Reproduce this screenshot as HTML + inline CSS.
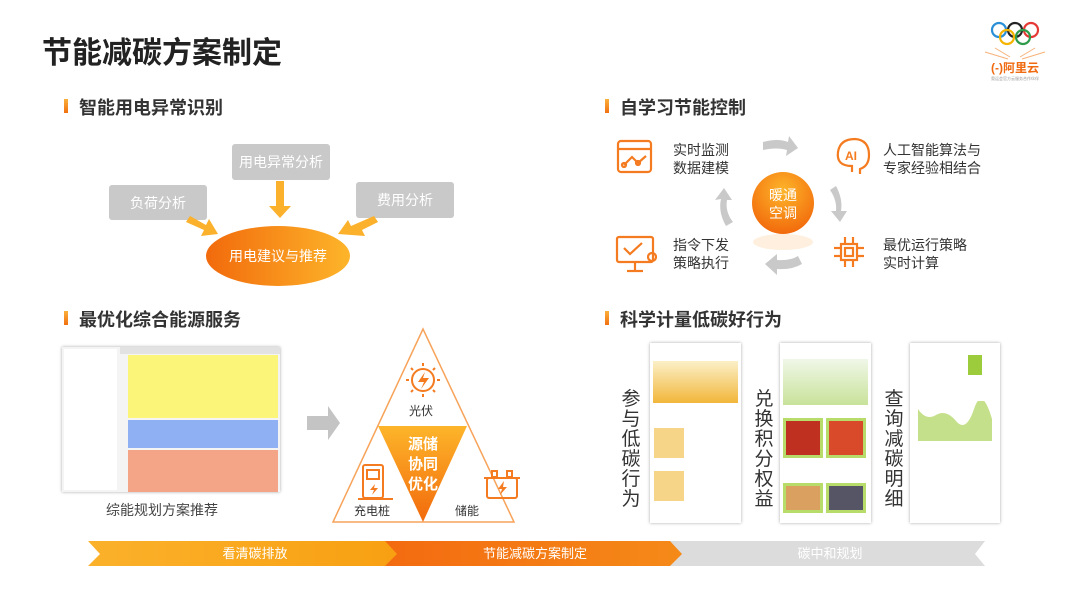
<!DOCTYPE html>
<html><head><meta charset="utf-8"><style>
*{margin:0;padding:0;box-sizing:border-box}
body{width:1080px;height:607px;background:#fff;position:relative;overflow:hidden;font-family:"Liberation Sans","Noto Sans CJK SC",sans-serif;color:#333}
.a{position:absolute;white-space:nowrap}
.h{font-size:18px;font-weight:bold;color:#333}
.bar{position:absolute;width:4px;height:14px;background:linear-gradient(#fbb03b,#f07010)}
.gb{position:absolute;background:#c9c9c9;color:#fff;font-size:14px;display:flex;align-items:center;justify-content:center;border-radius:3px}
.t14{font-size:14px;line-height:18px;color:#333}
.vt{position:absolute;font-size:19px;line-height:20px;width:22px;text-align:center;color:#333;white-space:normal}
.ph{position:absolute;background:#fff;box-shadow:0 0 3px rgba(0,0,0,.35)}
</style></head><body>
<div class="a" style="left:42px;top:28px;font-size:30px;font-weight:bold;color:#222">节能减碳方案制定</div>

<svg class="a" style="left:980px;top:14px" width="80" height="70">
<g fill="none" stroke-width="2.2">
<circle cx="19" cy="16" r="7" stroke="#2a8fd6"/><circle cx="35" cy="16" r="7" stroke="#222"/><circle cx="51" cy="16" r="7" stroke="#e53935"/>
<circle cx="27" cy="23" r="7" stroke="#f5b400"/><circle cx="43" cy="23" r="7" stroke="#2e9b4a"/></g>
<g stroke="#f7b27a" stroke-width="1"><line x1="5" y1="38" x2="28" y2="45"/><line x1="65" y1="38" x2="42" y2="45"/><line x1="15" y1="34" x2="30" y2="43"/><line x1="55" y1="34" x2="40" y2="43"/></g>
<text x="35" y="58" text-anchor="middle" font-size="12" font-weight="bold" fill="#f06a10" font-family="Liberation Sans,Noto Sans CJK SC,sans-serif">(-)阿里云</text>
<text x="35" y="66" text-anchor="middle" font-size="4" fill="#999">奥运会官方云服务合作伙伴</text>
</svg>

<div class="bar" style="left:64px;top:99px"></div>
<div class="a h" style="left:79px;top:94px">智能用电异常识别</div>
<div class="gb" style="left:109px;top:185px;width:98px;height:35px">负荷分析</div>
<div class="gb" style="left:232px;top:144px;width:98px;height:36px">用电异常分析</div>
<div class="gb" style="left:356px;top:182px;width:98px;height:36px">费用分析</div>
<svg class="a" style="left:0;top:0" width="1080" height="607">
<defs>
<linearGradient id="og" x1="0" x2="1"><stop offset="0" stop-color="#f26a0c"/><stop offset="1" stop-color="#fdb52a"/></linearGradient>
<linearGradient id="rg" x1="0" y1="0" x2="0" y2="1"><stop offset="0" stop-color="#fdb52a"/><stop offset="1" stop-color="#f26a0c"/></linearGradient>
<radialGradient id="cg" cx=".5" cy=".3" r=".7"><stop offset="0" stop-color="#fdb52a"/><stop offset="1" stop-color="#f26a0c"/></radialGradient>
<linearGradient id="b1" x1="0" x2="1"><stop offset="0" stop-color="#fbb12b"/><stop offset="1" stop-color="#f8a012"/></linearGradient>
<linearGradient id="b2" x1="0" x2="1"><stop offset="0" stop-color="#f36a10"/><stop offset="1" stop-color="#f58a18"/></linearGradient>
</defs>
<ellipse cx="278" cy="256" rx="72" ry="30" fill="url(#og)"/>
<text x="278" y="261" text-anchor="middle" font-size="14" fill="#fff">用电建议与推荐</text>
<polygon points="276,181 284,181 284,206 291,206 280,218 269,206 276,206" fill="#fbb12b"/>
<polygon points="186,222 190,216 206,225 209,219 218,234 201,236 204,230" fill="#fbb12b"/>
<polygon points="374,216 378,222 362,230 365,236 338,234 348,220 351,226" fill="#fbb12b"/>

<ellipse cx="783" cy="242" rx="30" ry="8" fill="#fde5c8" opacity=".6"/>
<circle cx="783" cy="203" r="31" fill="url(#cg)"/>
<text x="783" y="200" text-anchor="middle" font-size="14" fill="#fff">暖通</text>
<text x="783" y="218" text-anchor="middle" font-size="14" fill="#fff">空调</text>
<g fill="#c9c9c9">
<path d="M763,142 Q778,138 788,142 L789,136 L798,148 L786,156 L787,150 Q777,147 763,150Z"/>
<path d="M836,186 Q843,199 841,211 L847,211 L840,222 L831,211 L836,211 Q837,200 830,190Z"/>
<path d="M802,264 Q792,270 777,269 L777,275 L765,264 L777,254 L777,260 Q790,261 798,256Z"/>
<path d="M726,226 Q718,212 721,199 L715,200 L724,188 L732,200 L727,200 Q725,212 733,222Z"/>
</g>
<g fill="none" stroke="#f47b20" stroke-width="2.2">
<rect x="618" y="141" width="33" height="31" rx="3"/><line x1="618" y1="149" x2="651" y2="149"/>
<polyline points="624,165 632,157 638,163 646,156"/><circle cx="624" cy="165" r="2"/><circle cx="638" cy="163" r="2"/>
<path d="M852,172 L852,166 Q836,166 838,152 Q840,139 855,139 Q869,140 869,155 Q869,166 860,169 L860,174"/>
<rect x="617" y="237" width="36" height="25" rx="2"/><line x1="635" y1="262" x2="635" y2="270"/><line x1="627" y1="271" x2="643" y2="271"/>
<polyline points="624,248 630,254 642,243"/><circle cx="652" cy="257" r="4"/>
<rect x="841" y="244" width="16" height="16"/><rect x="845" y="248" width="8" height="8"/>
<line x1="845" y1="244" x2="845" y2="237"/><line x1="853" y1="244" x2="853" y2="237"/><line x1="845" y1="260" x2="845" y2="267"/><line x1="853" y1="260" x2="853" y2="267"/>
<line x1="841" y1="248" x2="834" y2="248"/><line x1="841" y1="256" x2="834" y2="256"/><line x1="857" y1="248" x2="864" y2="248"/><line x1="857" y1="256" x2="864" y2="256"/>
</g>
<text x="851" y="160" text-anchor="middle" font-size="12" font-weight="bold" fill="#f47b20">AI</text>

<polygon points="307,416 328,416 328,406 340,423 328,440 328,430 307,430" fill="#c4c4c4"/>
<polygon points="423,329 333,522 514,522" fill="#fff" stroke="#f7a35a" stroke-width="1.5"/>
<polygon points="378,426 467,426 423,522" fill="url(#rg)"/>
<text x="423" y="449" text-anchor="middle" font-size="15" font-weight="bold" fill="#fff">源储</text>
<text x="423" y="469" text-anchor="middle" font-size="15" font-weight="bold" fill="#fff">协同</text>
<text x="423" y="489" text-anchor="middle" font-size="15" font-weight="bold" fill="#fff">优化</text>
<text x="421" y="415" text-anchor="middle" font-size="12" fill="#333">光伏</text>
<text x="372" y="515" text-anchor="middle" font-size="12" fill="#333">充电桩</text>
<text x="467" y="515" text-anchor="middle" font-size="12" fill="#333">储能</text>
<g fill="none" stroke="#f47b20" stroke-width="2">
<circle cx="423" cy="380" r="11"/>
<line x1="423" y1="363" x2="423" y2="366"/><line x1="423" y1="394" x2="423" y2="397"/><line x1="406" y1="380" x2="409" y2="380"/><line x1="437" y1="380" x2="440" y2="380"/>
<line x1="411" y1="368" x2="413" y2="370"/><line x1="435" y1="368" x2="433" y2="370"/><line x1="411" y1="392" x2="413" y2="390"/><line x1="435" y1="392" x2="433" y2="390"/>
<rect x="363" y="465" width="20" height="33" rx="2"/><rect x="367" y="470" width="12" height="9"/><line x1="358" y1="499" x2="393" y2="499"/>
<rect x="487" y="478" width="30" height="20" rx="2"/><line x1="484" y1="478" x2="520" y2="478"/><rect x="492" y="471" width="5" height="6"/><rect x="507" y="471" width="5" height="6"/>
</g>
<path d="M425,372 L418,382 L424,382 L421,389 L429,378 L423,378Z" fill="#f47b20"/>
<path d="M375,484 L370,490 L374,490 L372,495 L378,488 L374,488Z" fill="#f47b20"/>
<path d="M504,481 L498,489 L502,489 L500,495 L507,487 L503,487Z" fill="#f47b20"/>

<polygon points="665,541 985,541 975,554 985,566 665,566 678,554" fill="#dcdcdc"/>
<polygon points="380,541 670,541 682,554 670,566 380,566 392,554" fill="url(#b2)"/>
<polygon points="88,541 385,541 397,554 385,566 88,566 100,554" fill="url(#b1)"/>
<text x="255" y="558" text-anchor="middle" font-size="13" fill="#fff">看清碳排放</text>
<text x="535" y="558" text-anchor="middle" font-size="13" fill="#fff">节能减碳方案制定</text>
<text x="830" y="558" text-anchor="middle" font-size="13" fill="#fff">碳中和规划</text>
</svg>

<div class="bar" style="left:605px;top:99px"></div>
<div class="a h" style="left:620px;top:94px">自学习节能控制</div>
<div class="a t14" style="left:673px;top:141px">实时监测<br>数据建模</div>
<div class="a t14" style="left:883px;top:141px">人工智能算法与<br>专家经验相结合</div>
<div class="a t14" style="left:673px;top:236px">指令下发<br>策略执行</div>
<div class="a t14" style="left:883px;top:236px">最优运行策略<br>实时计算</div>

<div class="bar" style="left:64px;top:311px"></div>
<div class="a h" style="left:79px;top:306px">最优化综合能源服务</div>
<div class="ph" style="left:62px;top:347px;width:218px;height:145px;background:#f4f4f4">
 <div style="position:absolute;left:2px;top:2px;width:53px;height:141px;background:#fff"></div>
 <div style="position:absolute;left:58px;top:0;width:160px;height:7px;background:#e2e2e2"></div>
 <div style="position:absolute;left:66px;top:8px;width:150px;height:63px;background:#fbf57a"></div>
 <div style="position:absolute;left:66px;top:73px;width:150px;height:28px;background:#8fb0f2"></div>
 <div style="position:absolute;left:66px;top:103px;width:150px;height:42px;background:#f5a587"></div>
</div>
<div class="a" style="left:106px;top:500px;font-size:14px;color:#444">综能规划方案推荐</div>

<div class="bar" style="left:605px;top:311px"></div>
<div class="a h" style="left:620px;top:306px">科学计量低碳好行为</div>
<div class="vt" style="left:620px;top:390px">参与低碳行为</div>
<div class="vt" style="left:753px;top:390px">兑换积分权益</div>
<div class="vt" style="left:883px;top:390px">查询减碳明细</div>
<div class="ph" style="left:650px;top:343px;width:91px;height:180px">
 <div style="position:absolute;left:3px;top:18px;width:85px;height:42px;background:linear-gradient(#fbf0c8,#f2b63a)"></div>
 <div style="position:absolute;left:4px;top:85px;width:30px;height:30px;background:#f6d488"></div>
 <div style="position:absolute;left:4px;top:128px;width:30px;height:30px;background:#f6d488"></div>
</div>
<div class="ph" style="left:780px;top:343px;width:91px;height:180px">
 <div style="position:absolute;left:3px;top:16px;width:85px;height:46px;background:linear-gradient(#f0f7e8,#c8e29a)"></div>
 <div style="position:absolute;left:3px;top:75px;width:40px;height:40px;background:#c03020;border:3px solid #b7dc6a"></div>
 <div style="position:absolute;left:46px;top:75px;width:40px;height:40px;background:#d94a2a;border:3px solid #b7dc6a"></div>
 <div style="position:absolute;left:3px;top:140px;width:40px;height:30px;background:#d9a060;border:3px solid #b7dc6a"></div>
 <div style="position:absolute;left:46px;top:140px;width:40px;height:30px;background:#556;border:3px solid #b7dc6a"></div>
</div>
<div class="ph" style="left:910px;top:343px;width:90px;height:180px">
 <div style="position:absolute;left:58px;top:12px;width:14px;height:20px;background:#9ccc3c"></div>
 <svg style="position:absolute;left:6px;top:58px" width="78" height="40"><path d="M2,8 Q10,20 20,14 T40,20 T58,8 T76,18 L76,40 L2,40Z" fill="#c5e08a"/></svg>
</div>
</body></html>
